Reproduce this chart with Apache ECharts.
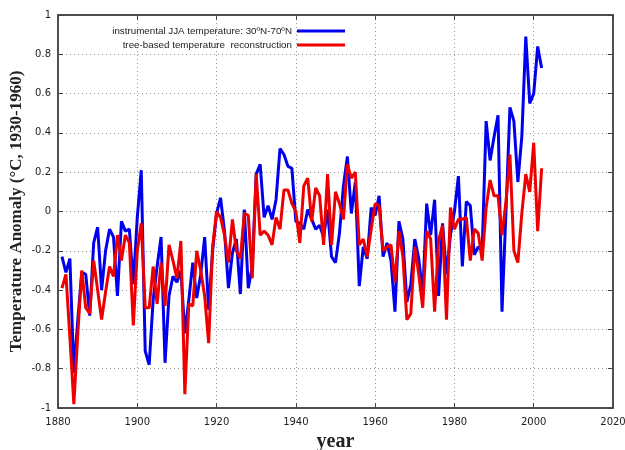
<!DOCTYPE html>
<html style="height: 100%">
<head>
    <meta charset="utf-8">
    <script src="https://cdn.jsdelivr.net/npm/echarts@6/dist/echarts.min.js"></script>
    <title>JJA temperature vs tree-based reconstruction</title>
</head>
<body style="height: 100%; margin: 0; background: #fff">
<div id="container" style="width: 625px; height: 450px"></div>
<script type="text/javascript">

    // years 1881 - 2002
    let startYear = 1881
    let instrumental = [
        -0.23, -0.31, -0.24, -0.82, -0.55, -0.31, -0.32, -0.53, -0.16, -0.08,
        -0.40, -0.20, -0.09, -0.13, -0.43, -0.05, -0.10, -0.09, -0.37, -0.03,
        0.21, -0.71, -0.78, -0.45, -0.28, -0.13, -0.77, -0.43, -0.33, -0.36,
        -0.30, -0.62, -0.45, -0.26, -0.44, -0.32, -0.13, -0.50, -0.20, -0.01,
        0.07, -0.10, -0.39, -0.21, -0.14, -0.42, 0.01, -0.39, -0.28, 0.19,
        0.24, -0.03, 0.03, -0.04, 0.06, 0.32, 0.29, 0.23, 0.22, -0.05,
        -0.06, -0.09, 0.01, -0.04, -0.09, -0.07, -0.13, 0.01, -0.23, -0.26,
        -0.11, 0.13, 0.28, -0.01, 0.15, -0.38, -0.18, -0.24, 0.02, -0.02,
        0.08, -0.23, -0.16, -0.25, -0.51, -0.05, -0.14, -0.46, -0.37, -0.14,
        -0.24, -0.42, 0.04, -0.12, 0.06, -0.43, -0.06, -0.32, -0.12, 0.00,
        0.18, -0.28, 0.05, 0.03, -0.22, -0.18, -0.20, 0.46, 0.26, 0.38,
        0.49, -0.51, 0.00, 0.53, 0.46, 0.15, 0.38, 0.89, 0.55, 0.60,
        0.84, 0.73
    ]
    let treeBased = [
        -0.39, -0.32, -0.64, -0.98, -0.62, -0.30, -0.49, -0.52, -0.25, -0.40,
        -0.55, -0.41, -0.28, -0.33, -0.12, -0.25, -0.12, -0.16, -0.58, -0.20,
        -0.06, -0.49, -0.49, -0.28, -0.47, -0.26, -0.48, -0.17, -0.25, -0.34,
        -0.15, -0.93, -0.47, -0.48, -0.20, -0.30, -0.43, -0.67, -0.18, 0.00,
        -0.03, -0.12, -0.26, -0.04, -0.20, -0.24, -0.01, -0.02, -0.34, 0.19,
        -0.12, -0.10, -0.12, -0.17, -0.03, -0.09, 0.11, 0.11, 0.04, 0.00,
        -0.16, 0.13, 0.17, -0.05, 0.12, 0.08, -0.17, 0.19, -0.17, 0.10,
        0.04, -0.04, 0.24, 0.17, 0.20, -0.17, -0.14, -0.23, -0.09, 0.04,
        0.03, -0.20, -0.18, -0.17, -0.36, -0.10, -0.23, -0.55, -0.52, -0.18,
        -0.32, -0.49, -0.10, -0.14, -0.51, -0.15, -0.07, -0.55, 0.02, -0.09,
        -0.04, -0.04, -0.03, -0.25, -0.09, -0.11, -0.25, 0.02, 0.16, 0.08,
        0.08, -0.12, 0.05, 0.29, -0.20, -0.26, -0.01, 0.19, 0.10, 0.35,
        -0.10, 0.22
    ]
    let seriesNames = ['instrumental JJA temperature: 30ºN-70ºN', 'tree-based temperature  reconstruction']

    function pairs(values) {
        return values.map((v, i) => [startYear + i, v])
    }

    let tickFont = {fontSize: 10, color: '#222', fontFamily: 'DejaVu Sans'}
    let gridLine = {show: true, lineStyle: {type: [1, 3], color: '#999', width: 1}}
    let frame = {show: true, onZero: false, lineStyle: {color: '#444', width: 1.5}}
    let inTicks = {show: true, inside: true, length: 5, lineStyle: {color: '#444'}}

    let chart = echarts.init(document.getElementById('container'))
    chart.setOption({
        animation: false,
        grid: {
            left: 58, right: 12, top: 15, bottom: 42, outerBoundsMode: 'none',
            show: true, borderColor: '#444', borderWidth: 1.5
        },
        legend: {
            orient: 'vertical', right: 275, top: 21, align: 'right',
            itemWidth: 48, itemHeight: 3, itemGap: 4, icon: 'rect',
            textStyle: {fontSize: 9.8, color: '#222', fontFamily: 'Liberation Sans'},
            data: seriesNames
        },
        xAxis: [
            {
                type: 'value', min: 1880, max: 2020, interval: 20,
                axisLine: frame, axisTick: inTicks, splitLine: gridLine,
                axisLabel: Object.assign({margin: 9, formatter: v => String(v)}, tickFont),
                name: 'year', nameLocation: 'middle', nameGap: 23,
                nameTextStyle: {fontFamily: 'Liberation Serif', fontWeight: 'bold', fontSize: 20, color: '#222'}
            },
            {
                type: 'value', min: 1880, max: 2020, interval: 20, position: 'top',
                axisLine: frame, axisTick: inTicks, axisLabel: {show: false}, splitLine: {show: false}
            }
        ],
        yAxis: [
            {
                type: 'value', min: -1, max: 1, interval: 0.2,
                axisLine: frame, axisTick: inTicks, splitLine: gridLine,
                axisLabel: Object.assign({margin: 7, formatter: v => String(Math.round(v * 10) / 10)}, tickFont),
                name: 'Temperature Anomaly (°C, 1930-1960)', nameLocation: 'middle', nameGap: 33,
                nameMoveOverlap: false,
                nameTextStyle: {fontFamily: 'Liberation Serif', fontWeight: 'bold', fontSize: 17, color: '#222'}
            },
            {
                type: 'value', min: -1, max: 1, interval: 0.2, position: 'right',
                axisLine: frame, axisTick: inTicks, axisLabel: {show: false}, splitLine: {show: false}
            }
        ],
        series: [
            {
                name: seriesNames[0], type: 'line', data: pairs(instrumental),
                showSymbol: false, lineStyle: {color: '#0000ee', width: 3}, itemStyle: {color: '#0000ee'}
            },
            {
                name: seriesNames[1], type: 'line', data: pairs(treeBased),
                showSymbol: false, lineStyle: {color: '#ee0000', width: 3}, itemStyle: {color: '#ee0000'}
            }
        ]
    })

</script>
</body>
</html>
